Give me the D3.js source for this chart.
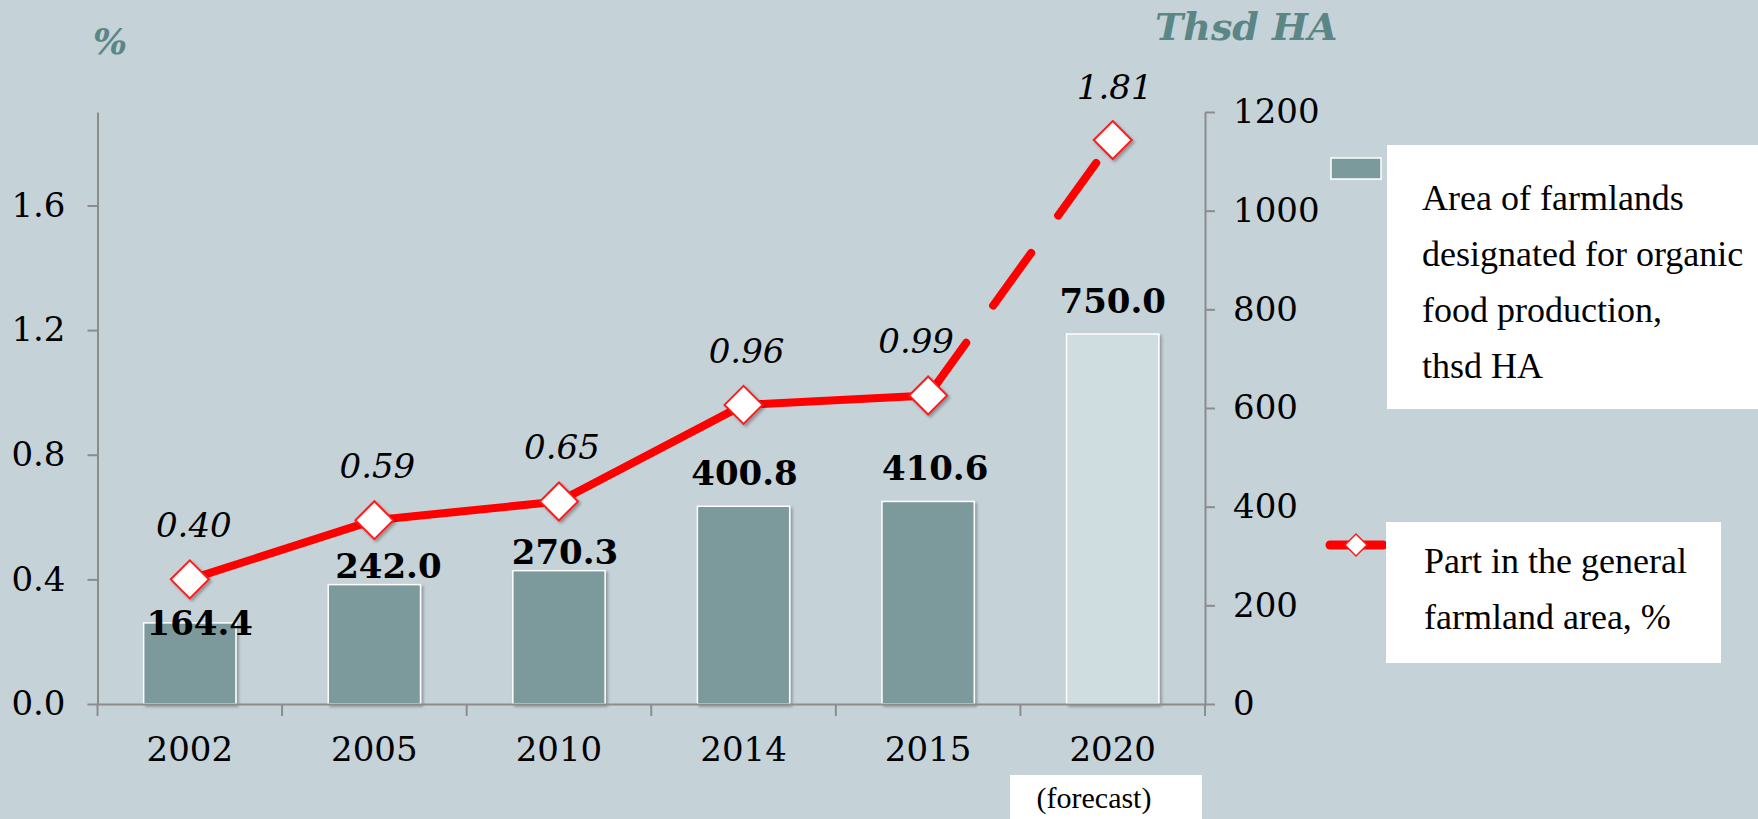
<!DOCTYPE html>
<html lang="en">
	<head>
		<meta charset="utf-8">
		<title>Organic farmlands</title>
		<script type="text/javascript" src="https://cdn.jsdelivr.net/npm/d3@7/dist/d3.min.js"></script>
		<style type="text/css">
			body { margin: 0; background: #c5d2d8; }
			svg { display: block; }
			.tick text { font-family: "DejaVu Serif", serif; }
			.note { font-family: "Liberation Serif", "Times New Roman", serif; }
		</style>
	</head>
	<body>
		<script type="text/javascript">

			//Data
			let years = ["2002", "2005", "2010", "2014", "2015", "2020"];
			let area = [164.4, 242.0, 270.3, 400.8, 410.6, 750.0];
			let share = [0.40, 0.59, 0.65, 0.96, 0.99, 1.81];
			let forecast = [false, false, false, false, false, true];
			let leftTicks = [0, 0.4, 0.8, 1.2, 1.6];
			let rightTicks = [0, 200, 400, 600, 800, 1000, 1200];

			//Hand nudges for the labels, like in the original slide
			let areaLabelNudge = [[10, 12], [14, -7], [6, -7], [1, -21], [7, -21], [0, -21]];
			let shareLabelNudge = [[4, -42], [3, -42], [3, -42], [3, -42], [-12, -43], [2, -41]];

			//Width and height
			let w = 1758;
			let h = 819;
			let plotLeft = 97.5, plotRight = 1205, plotTop = 112, plotBottom = 704;

			let svg = d3.select("body")
						.append("svg")
						.attr("width", w)
						.attr("height", h);

			//Soft shadow under markers
			let defs = svg.append("defs");
			defs.append("filter")
				.attr("id", "shadow")
				.attr("x", "-50%").attr("y", "-50%")
				.attr("width", "200%").attr("height", "200%")
				.append("feDropShadow")
				.attr("dx", 2).attr("dy", 2)
				.attr("stdDeviation", 1.5)
				.attr("flood-color", "#000")
				.attr("flood-opacity", 0.3);

			//Scales
			let x = d3.scaleBand()
					  .domain(years)
					  .range([plotLeft, plotRight])
					  .paddingInner(0.5)
					  .paddingOuter(0.25);

			let yL = d3.scaleLinear().domain([0, 1.9]).range([plotBottom, plotTop]);
			let yR = d3.scaleLinear().domain([0, 1200]).range([plotBottom, plotTop]);

			//Bars
			svg.selectAll("rect.bar")
			   .data(years)
			   .enter()
			   .append("rect")
			   .attr("class", "bar")
			   .attr("x", (d)=> x(d))
			   .attr("y", (d, i)=> yR(area[i]))
			   .attr("width", x.bandwidth())
			   .attr("height", (d, i)=> plotBottom - yR(area[i]))
			   .style("fill", (d, i)=> forecast[i] ? "#d0dde0" : "#7b9a9b")
			   .style("stroke", "#ffffff")
			   .style("stroke-width", 1.5)
			   .style("filter", "url(#shadow)");

			//Axes
			let axisColor = "#8c8c8c";

			let gL = svg.append("g")
						.attr("transform", "translate(" + plotLeft + ",0)")
						.call(d3.axisLeft(yL)
								.tickValues(leftTicks)
								.tickFormat(d3.format(".1f"))
								.tickSize(10)
								.tickSizeOuter(0)
								.tickPadding(22));

			let gR = svg.append("g")
						.attr("transform", "translate(" + plotRight + ",0)")
						.call(d3.axisRight(yR)
								.tickValues(rightTicks)
								.tickFormat(d3.format("d"))
								.tickSize(10)
								.tickSizeOuter(0)
								.tickPadding(18));

			let gX = svg.append("g")
						.attr("transform", "translate(0," + plotBottom + ")")
						.call(d3.axisBottom(x)
								.tickSize(0)
								.tickSizeOuter(0)
								.tickPadding(33));

			[gL, gR, gX].forEach((g)=> {
				g.selectAll("path.domain").style("stroke", axisColor).style("stroke-width", 2);
				g.selectAll(".tick line").style("stroke", axisColor).style("stroke-width", 2);
				g.selectAll(".tick text").style("font-size", "34px").style("fill", "#000");
			});

			//Category boundary ticks under the baseline
			svg.selectAll("line.xtick")
			   .data(d3.range(years.length + 1))
			   .enter()
			   .append("line")
			   .attr("class", "xtick")
			   .attr("x1", (i)=> x.range()[0] + i * x.step())
			   .attr("x2", (i)=> x.range()[0] + i * x.step())
			   .attr("y1", plotBottom)
			   .attr("y2", plotBottom + 12)
			   .style("stroke", axisColor)
			   .style("stroke-width", 2);

			//Line, solid part then dashed forecast part
			let line = d3.line()
						 .x((d)=> x(d) + x.bandwidth() / 2)
						 .y((d)=> yL(share[years.indexOf(d)]));

			let lastReal = forecast.indexOf(true);

			svg.append("path")
			   .attr("d", line(years.slice(0, lastReal)))
			   .style("fill", "none")
			   .style("stroke", "#ff0000")
			   .style("stroke-width", 8)
			   .style("stroke-linejoin", "round");

			svg.append("path")
			   .attr("d", line(years.slice(lastReal - 1)))
			   .style("fill", "none")
			   .style("stroke", "#ff0000")
			   .style("stroke-width", 8)
			   .style("stroke-linecap", "round")
			   .style("stroke-dasharray", "65 46");

			//Diamond markers
			let diamond = (r)=> "M0," + (-r) + "L" + r + ",0L0," + r + "L" + (-r) + ",0Z";

			svg.selectAll("path.marker")
			   .data(years)
			   .enter()
			   .append("path")
			   .attr("class", "marker")
			   .attr("d", diamond(19))
			   .attr("transform", (d, i)=> "translate(" + (x(d) + x.bandwidth() / 2) + "," + yL(share[i]) + ")")
			   .style("fill", "#ffffff")
			   .style("stroke", "#ff1a1a")
			   .style("stroke-width", 2)
			   .style("filter", "url(#shadow)");

			//Bar value labels
			svg.selectAll("text.areaLabel")
			   .data(years)
			   .enter()
			   .append("text")
			   .attr("class", "areaLabel")
			   .attr("x", (d, i)=> x(d) + x.bandwidth() / 2 + areaLabelNudge[i][0])
			   .attr("y", (d, i)=> yR(area[i]) + areaLabelNudge[i][1])
			   .attr("text-anchor", "middle")
			   .style("font-family", "'DejaVu Serif', serif")
			   .style("font-weight", "bold")
			   .style("font-size", "34px")
			   .text((d, i)=> area[i].toFixed(1));

			//Line value labels
			svg.selectAll("text.shareLabel")
			   .data(years)
			   .enter()
			   .append("text")
			   .attr("class", "shareLabel")
			   .attr("x", (d, i)=> x(d) + x.bandwidth() / 2 + shareLabelNudge[i][0])
			   .attr("y", (d, i)=> yL(share[i]) + shareLabelNudge[i][1])
			   .attr("text-anchor", "middle")
			   .style("font-family", "'DejaVu Serif', serif")
			   .style("font-style", "italic")
			   .style("font-size", "34px")
			   .text((d, i)=> share[i].toFixed(2));

			//Axis titles
			svg.append("text")
			   .attr("x", 93).attr("y", 54)
			   .style("font-family", "'DejaVu Serif', serif")
			   .style("font-weight", "bold").style("font-style", "italic")
			   .style("font-size", "36px")
			   .style("fill", "#5b8686")
			   .text("%");

			svg.append("text")
			   .attr("x", 1155).attr("y", 40)
			   .style("font-family", "'DejaVu Serif', serif")
			   .style("font-weight", "bold").style("font-style", "italic")
			   .style("font-size", "38px")
			   .style("fill", "#5b8686")
			   .text("Thsd HA");

			//Forecast note
			svg.append("rect")
			   .attr("x", 1010).attr("y", 775).attr("width", 192).attr("height", 44)
			   .style("fill", "#ffffff");
			svg.append("text")
			   .attr("class", "note")
			   .attr("x", 1094).attr("y", 808)
			   .attr("text-anchor", "middle")
			   .style("font-size", "30px")
			   .text("(forecast)");

			//Legend
			let legend = svg.append("g").attr("class", "note").style("font-size", "36px");

			legend.append("rect")
				  .attr("x", 1331).attr("y", 158).attr("width", 50).attr("height", 21)
				  .style("fill", "#7b9a9b").style("stroke", "#ffffff").style("stroke-width", 1.5);
			legend.append("rect")
				  .attr("x", 1387).attr("y", 145).attr("width", 371).attr("height", 264)
				  .style("fill", "#ffffff");
			["Area of farmlands", "designated for organic", "food production,", "thsd HA"].forEach((t, i)=> {
				legend.append("text").attr("x", 1422).attr("y", 210 + i * 56).text(t);
			});

			legend.append("line")
				  .attr("x1", 1330).attr("x2", 1383).attr("y1", 545).attr("y2", 545)
				  .style("stroke", "#ff0000").style("stroke-width", 9).style("stroke-linecap", "round");
			legend.append("path")
				  .attr("d", diamond(11))
				  .attr("transform", "translate(1356,545)")
				  .style("fill", "#ffffff").style("stroke", "#ff1a1a").style("stroke-width", 1.5);
			legend.append("rect")
				  .attr("x", 1386).attr("y", 522).attr("width", 335).attr("height", 141)
				  .style("fill", "#ffffff");
			["Part in the general", "farmland area, %"].forEach((t, i)=> {
				legend.append("text").attr("x", 1424).attr("y", 573 + i * 56).text(t);
			});

		</script>
	</body>
</html>
